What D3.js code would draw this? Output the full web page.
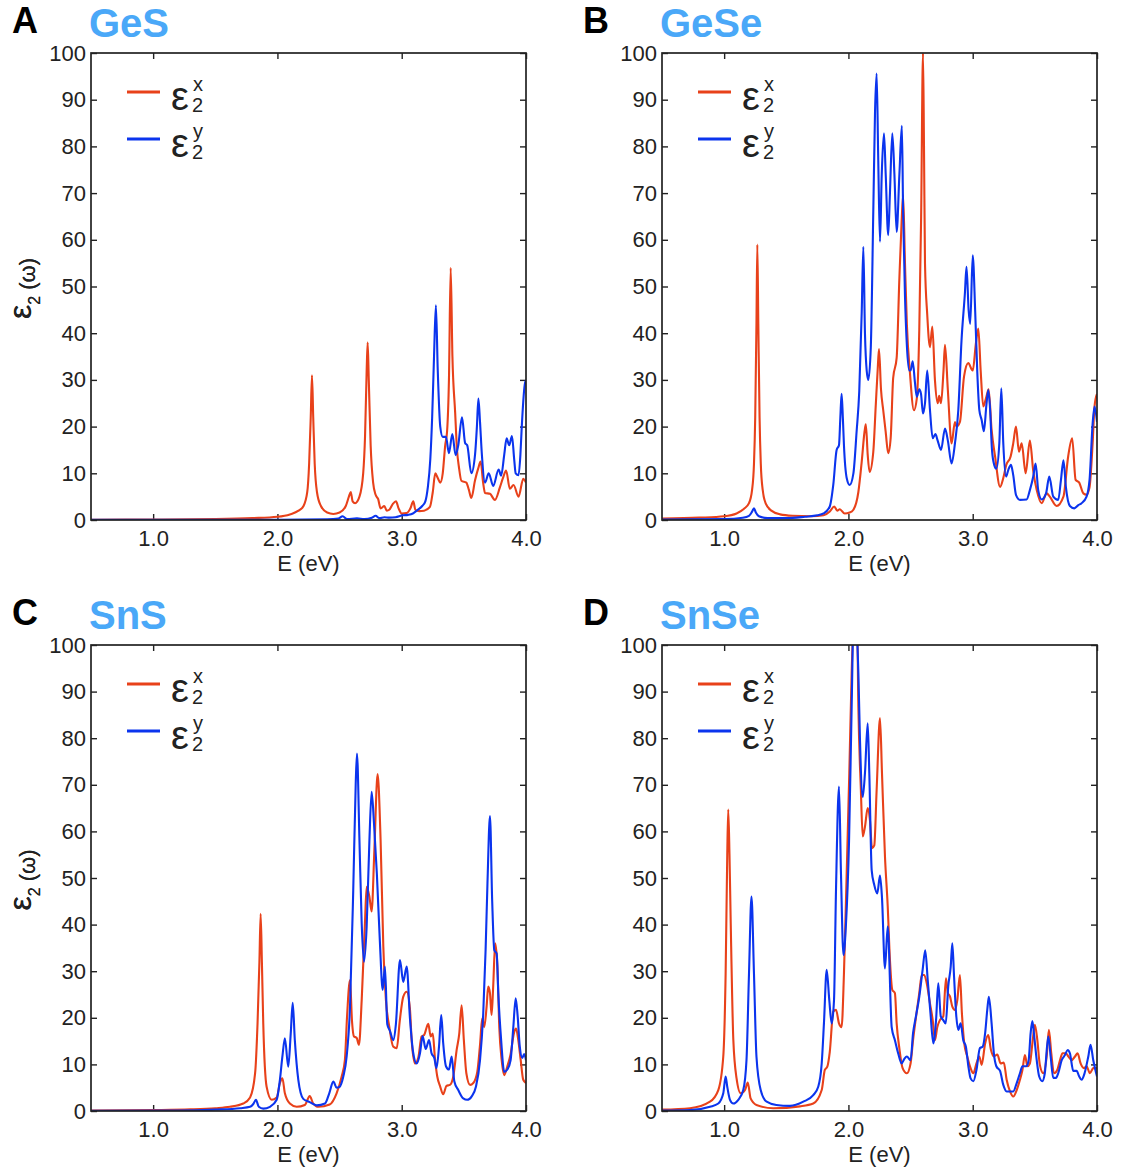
<!DOCTYPE html>
<html>
<head>
<meta charset="utf-8">
<script src="https://cdn.jsdelivr.net/npm/d3@7"></script>
<style>
  body { margin: 0; background: #fff; }
  svg { display: block; font-family: "Liberation Sans", Arial, Helvetica, sans-serif; }
</style>
</head>
<body>
<svg id="chart" width="1122" height="1172"></svg>
<script>
// ---------------- DATA (E in eV, ε2 value) ----------------
const xTicks = [1.0, 2.0, 3.0, 4.0];
const yTicks = [0, 10, 20, 30, 40, 50, 60, 70, 80, 90, 100];
const materials = ["GeS", "GeSe", "SnS", "SnSe"];
const panelLetters = ["A", "B", "C", "D"];

const gesX = [[0.5,0.05],[1.0,0.1],[1.5,0.2],[1.8,0.4],[2.0,0.7],[2.1,1.2],[2.17,2.0],[2.21,3.0],[2.24,6],[2.255,12],[2.268,22],[2.278,31],[2.288,22],[2.30,12],[2.318,6],[2.35,3],[2.40,1.6],[2.45,1.3],[2.50,1.6],[2.55,3],[2.575,5],[2.59,6],[2.605,4],[2.625,3.6],[2.66,5],[2.69,10],[2.705,18],[2.718,32],[2.726,38],[2.735,30],[2.75,16],[2.77,8],[2.79,5.4],[2.81,4.5],[2.83,2.5],[2.86,3],[2.88,2],[2.90,2.2],[2.93,3.5],[2.954,4],[2.975,2.5],[3.0,1.4],[3.04,1.5],[3.07,2.5],[3.093,4],[3.11,2.2],[3.14,1.9],[3.18,2],[3.227,2.8],[3.25,6],[3.27,10],[3.29,9],[3.31,8],[3.33,10],[3.35,16],[3.365,19],[3.38,30],[3.394,54],[3.408,35],[3.43,23],[3.445,15],[3.46,11.4],[3.48,8.4],[3.52,8],[3.54,6.5],[3.56,4.7],[3.59,8.5],[3.615,11],[3.635,12.5],[3.655,8],[3.67,5.8],[3.71,5.6],[3.75,4.3],[3.79,7],[3.815,9],[3.84,10.6],[3.87,6.7],[3.90,7.5],[3.94,5],[3.978,8.8],[4.0,8]];
const gesY = [[0.5,0.02],[2.0,0.05],[2.4,0.15],[2.49,0.3],[2.525,0.8],[2.56,0.2],[2.64,0.35],[2.7,0.2],[2.76,0.5],[2.79,0.9],[2.82,0.4],[2.86,0.6],[2.9,0.5],[2.95,0.6],[3.01,1.0],[3.05,1.1],[3.09,1.4],[3.13,2.2],[3.165,3.0],[3.19,4],[3.21,7],[3.23,13],[3.245,22],[3.26,35],[3.275,46],[3.29,32],[3.31,20],[3.33,17.8],[3.356,17.8],[3.38,14.3],[3.407,18.4],[3.434,13.9],[3.455,16],[3.485,22],[3.51,16.5],[3.527,16],[3.56,10],[3.59,14],[3.605,20],[3.617,26],[3.63,21],[3.645,14],[3.67,8],[3.70,10],[3.736,7.3],[3.78,10.8],[3.80,9.5],[3.825,14],[3.844,17.5],[3.865,16],[3.887,18],[3.905,13],[3.917,10],[3.94,9.6],[3.955,14],[3.965,19.5],[3.99,29],[4.0,30]];

const geseX = [[0.5,0.3],[0.8,0.5],[1.0,0.8],[1.1,1.4],[1.16,2.4],[1.2,3.6],[1.225,6.5],[1.24,12],[1.25,22],[1.26,42],[1.267,59],[1.275,42],[1.285,22],[1.295,12],[1.31,6.5],[1.335,3.5],[1.38,2],[1.45,1.2],[1.55,0.9],[1.7,0.8],[1.8,1.0],[1.85,1.8],[1.886,2.9],[1.91,2.0],[1.93,2.3],[1.97,1.4],[2.01,1.6],[2.04,2.2],[2.08,6],[2.107,12.5],[2.13,19],[2.14,20.5],[2.155,14],[2.17,10.3],[2.2,14.6],[2.22,24.6],[2.235,32],[2.246,36.6],[2.262,28],[2.28,23.5],[2.3,18.8],[2.32,14.3],[2.34,17.6],[2.36,30.4],[2.388,34.7],[2.41,51.8],[2.428,63.9],[2.44,69.6],[2.455,55],[2.47,42],[2.495,31.5],[2.527,23.5],[2.55,26],[2.57,40.7],[2.585,65],[2.6,100],[2.608,80],[2.616,55],[2.634,44],[2.656,37],[2.675,41.4],[2.696,30],[2.718,25],[2.73,26.6],[2.745,25],[2.765,32],[2.777,37.5],[2.80,27.8],[2.83,16.4],[2.857,21],[2.87,20],[2.897,21],[2.93,30.7],[2.964,33.6],[3.0,32],[3.026,37.9],[3.045,41],[3.064,32],[3.085,24.3],[3.11,26.4],[3.128,28],[3.152,19.3],[3.18,13.6],[3.22,7.1],[3.246,9],[3.27,11.8],[3.305,13.6],[3.326,16.4],[3.348,20],[3.372,14.6],[3.394,16.4],[3.426,10],[3.46,17],[3.487,10.5],[3.515,6.4],[3.555,3.6],[3.595,5.7],[3.62,5],[3.675,3],[3.73,5],[3.768,13.6],[3.8,17.5],[3.828,8.6],[3.857,8],[3.89,5.7],[3.916,5.4],[3.94,7],[3.965,16.5],[3.98,24.3],[4.0,27]];
const geseY = [[0.5,0.1],[1.0,0.2],[1.15,0.5],[1.2,0.9],[1.225,1.8],[1.24,2.5],[1.255,1.6],[1.28,0.8],[1.35,0.4],[1.5,0.4],[1.65,0.7],[1.75,1.0],[1.8,1.4],[1.85,2.9],[1.878,7.5],[1.905,15],[1.924,16],[1.935,22],[1.945,27],[1.955,22],[1.964,16],[1.986,9],[2.01,7.5],[2.04,10],[2.066,19],[2.087,27.5],[2.107,44.6],[2.12,58.5],[2.133,40],[2.147,32],[2.16,30],[2.18,37],[2.2,66],[2.214,87.4],[2.227,95.6],[2.24,77],[2.254,59.6],[2.268,74],[2.286,82.8],[2.3,74],[2.32,61],[2.334,70],[2.353,82.8],[2.37,74],[2.388,61.7],[2.41,74],[2.43,84.4],[2.44,66],[2.455,48],[2.47,37.5],[2.49,32],[2.5,32],[2.517,34],[2.535,29.5],[2.55,26.4],[2.57,28],[2.584,27],[2.6,22.8],[2.616,25],[2.634,32],[2.656,23.6],[2.678,17.5],[2.7,18.4],[2.718,17],[2.745,15],[2.777,19.6],[2.8,17],[2.83,12.1],[2.857,16.4],[2.884,23.5],[2.91,38.5],[2.937,48.5],[2.95,54.2],[2.967,45],[2.98,42],[3.0,56.7],[3.02,44.6],[3.037,31.5],[3.053,23.6],[3.072,21.4],[3.09,19],[3.11,24.6],[3.125,27.8],[3.14,23.6],[3.155,15],[3.173,11.8],[3.19,11],[3.214,16.4],[3.23,28.2],[3.246,16.4],[3.268,9.3],[3.286,10.7],[3.308,11.8],[3.326,9.6],[3.348,5.4],[3.38,4.3],[3.434,4.4],[3.46,6.4],[3.487,9.3],[3.506,12.1],[3.527,6.4],[3.555,4.4],[3.59,5.7],[3.616,9.3],[3.648,5],[3.688,4.3],[3.71,8.6],[3.73,12.8],[3.75,7],[3.782,3],[3.817,2.5],[3.85,3.2],[3.876,3.6],[3.916,5],[3.94,8.6],[3.965,20.7],[3.98,24.3],[4.0,21]];

const snsX = [[0.5,0.1],[1.0,0.2],[1.3,0.35],[1.5,0.6],[1.618,0.9],[1.725,1.6],[1.78,2.9],[1.82,8],[1.84,18.8],[1.855,32],[1.865,42.3],[1.875,32],[1.886,18.8],[1.913,5.2],[1.954,2.4],[1.994,2.9],[2.02,6],[2.04,7],[2.06,3.8],[2.1,1.6],[2.155,0.9],[2.22,1.3],[2.26,3.2],[2.288,1.6],[2.33,0.9],[2.42,1.4],[2.476,3.8],[2.517,7.4],[2.543,11],[2.56,20.2],[2.584,28.1],[2.6,19.3],[2.616,16],[2.637,15.7],[2.656,14.2],[2.678,23.8],[2.704,40.3],[2.718,48.1],[2.74,46],[2.758,42.8],[2.78,56],[2.806,72.3],[2.83,58.2],[2.852,35.3],[2.873,23.8],[2.9,18.1],[2.932,13.8],[2.96,13.5],[2.985,19.5],[3.012,24.5],[3.04,25.6],[3.066,22],[3.08,15.2],[3.107,10.2],[3.133,11.4],[3.16,16],[3.18,16.3],[3.214,18.7],[3.233,16],[3.25,16.6],[3.267,11.4],[3.286,7.4],[3.308,5.4],[3.334,3.6],[3.36,5.4],[3.388,5.6],[3.415,7.4],[3.442,13.1],[3.463,16.6],[3.482,22.7],[3.5,15.2],[3.52,8.1],[3.55,5.6],[3.576,6],[3.608,8.4],[3.63,14.2],[3.648,19.9],[3.664,18],[3.683,22.4],[3.696,26.7],[3.71,25.3],[3.723,20.6],[3.736,26.7],[3.752,36],[3.77,31],[3.785,18],[3.804,11],[3.825,7.7],[3.85,9.6],[3.876,12.2],[3.903,16.7],[3.92,17.7],[3.938,15.2],[3.957,11],[3.978,6.7],[4.0,6]];
const snsY = [[0.5,0.05],[1.2,0.1],[1.5,0.3],[1.7,0.6],[1.78,0.9],[1.806,1.5],[1.827,2.4],[1.85,0.9],[1.886,0.5],[1.94,0.9],[1.994,2.4],[2.02,6.7],[2.04,11.7],[2.06,15.6],[2.087,9.5],[2.107,16.6],[2.123,23.2],[2.14,15.2],[2.168,6.7],[2.208,2.6],[2.26,1.9],[2.316,1.2],[2.383,1.6],[2.417,3.8],[2.45,6.3],[2.476,5],[2.5,5.2],[2.53,7.4],[2.557,11.7],[2.584,22.4],[2.61,47.4],[2.63,70.3],[2.64,76.7],[2.66,58],[2.678,40.3],[2.696,32],[2.718,39.6],[2.74,58],[2.758,68.5],[2.777,61.7],[2.8,50.9],[2.824,36.5],[2.847,26],[2.865,31],[2.884,18.6],[2.905,17.2],[2.932,15.2],[2.953,18.6],[2.986,32.4],[3.012,27.7],[3.04,31],[3.066,20],[3.093,12.4],[3.12,10.2],[3.147,12.4],[3.168,16.1],[3.193,13.3],[3.22,15.2],[3.24,12.4],[3.262,11.4],[3.28,9.2],[3.3,13.8],[3.318,20.6],[3.334,14.5],[3.356,9.6],[3.38,8.9],[3.402,11.7],[3.423,6.4],[3.455,4.5],[3.495,2.7],[3.527,2.4],[3.562,3.1],[3.597,5.2],[3.63,10.9],[3.656,21],[3.675,34.6],[3.69,48.9],[3.71,63.3],[3.728,45],[3.745,34.5],[3.764,33.8],[3.777,25.3],[3.8,15.2],[3.825,8.4],[3.85,8.9],[3.876,10.9],[3.898,18],[3.917,24.2],[3.933,20.3],[3.95,13.8],[3.97,11.4],[3.985,12.2],[4.0,10.9]];

const snseX = [[0.5,0.3],[0.725,0.6],[0.886,2],[0.953,4.5],[0.993,11.7],[1.012,29.5],[1.025,55],[1.033,64.7],[1.043,55],[1.053,40.3],[1.074,15.2],[1.1,7],[1.133,3.8],[1.168,4.5],[1.19,6.1],[1.213,2.7],[1.26,1.3],[1.395,0.6],[1.61,1.0],[1.717,1.6],[1.785,4.5],[1.81,8.8],[1.83,9.5],[1.85,12.7],[1.878,21.3],[1.9,21.7],[1.924,18.8],[1.945,18],[1.964,29.5],[1.986,51],[2.007,72.5],[2.026,94],[2.05,108],[2.07,105],[2.08,86.8],[2.1,69],[2.115,58.9],[2.133,61],[2.155,65],[2.173,62.4],[2.19,56.4],[2.208,57],[2.227,68.9],[2.254,84.3],[2.27,72.5],[2.294,54.6],[2.316,44],[2.334,32.4],[2.353,26],[2.374,25.3],[2.388,18.8],[2.41,13.4],[2.436,9.2],[2.47,8.1],[2.5,10.2],[2.52,15.2],[2.548,21],[2.57,25.3],[2.59,29.2],[2.61,29.2],[2.63,27.4],[2.656,23.1],[2.678,19.5],[2.696,15.2],[2.715,18],[2.736,19.5],[2.763,20.3],[2.785,28.5],[2.8,25.3],[2.817,24.6],[2.836,22.4],[2.857,21.7],[2.876,23.8],[2.897,29.2],[2.913,21],[2.932,14.5],[2.956,11.7],[2.983,9.2],[3.005,8.1],[3.03,10.2],[3.053,11.7],[3.072,9.9],[3.1,14.5],[3.125,16.3],[3.147,13.1],[3.17,11.7],[3.198,12.1],[3.225,10.2],[3.25,10.4],[3.273,6.7],[3.3,4.2],[3.326,3.1],[3.354,4.5],[3.38,6.7],[3.4,8.8],[3.42,12],[3.44,9.6],[3.46,10.2],[3.483,15.2],[3.5,18.5],[3.52,15.2],[3.54,9.9],[3.568,8.1],[3.595,11.7],[3.613,17.4],[3.632,12.4],[3.654,8.1],[3.68,8.8],[3.702,10.9],[3.723,12.4],[3.748,12.4],[3.77,11.7],[3.796,10.9],[3.823,11.7],[3.844,12.4],[3.868,10.2],[3.895,9.2],[3.916,9.6],[3.943,8.1],[3.97,9.2],[4.0,9.2]];
const snseY = [[0.5,0.1],[0.725,0.2],[0.886,0.9],[0.953,1.6],[0.993,3.8],[1.012,7.4],[1.025,5.2],[1.047,2.4],[1.074,1.6],[1.114,2.4],[1.154,4.5],[1.18,11],[1.2,29.5],[1.22,46],[1.24,29.5],[1.26,11.7],[1.294,4.5],[1.342,2],[1.42,1.3],[1.53,1.1],[1.637,2],[1.717,3.4],[1.757,5.2],[1.785,10.2],[1.803,18.8],[1.825,30.3],[1.846,23.8],[1.865,18.8],[1.884,23.8],[1.9,47.4],[1.924,69.6],[1.94,51],[1.96,33.5],[1.98,40],[2.005,58],[2.026,86.8],[2.045,110],[2.066,104],[2.08,94],[2.093,79.6],[2.115,67.4],[2.133,72.5],[2.155,83.2],[2.168,72.5],[2.187,51.7],[2.208,48.5],[2.232,46.7],[2.254,50.5],[2.27,45.8],[2.294,30.6],[2.316,39.6],[2.348,18],[2.374,15.2],[2.4,12.4],[2.428,10.2],[2.45,11.2],[2.47,11.7],[2.5,10.9],[2.52,16.7],[2.543,20.3],[2.57,24.5],[2.597,30.3],[2.618,34.5],[2.638,28.1],[2.66,21],[2.683,14.5],[2.705,19.5],[2.723,27.4],[2.743,20.3],[2.763,19.5],[2.783,18.8],[2.803,26.7],[2.823,31],[2.836,36],[2.85,28.8],[2.866,21],[2.884,17.4],[2.903,18.8],[2.924,15.2],[2.945,13.8],[2.965,9.6],[2.983,7],[3.005,6.4],[3.03,8.8],[3.058,13.5],[3.08,13.8],[3.1,16.7],[3.117,21.7],[3.13,24.5],[3.152,18.8],[3.17,12.4],[3.19,9.6],[3.22,8.6],[3.246,5.6],[3.273,4.2],[3.326,4.2],[3.354,6],[3.38,8.1],[3.4,9.6],[3.43,9.6],[3.45,10.9],[3.466,16.7],[3.48,19.3],[3.495,16],[3.515,10.9],[3.535,7.4],[3.56,6.4],[3.58,8.1],[3.608,16],[3.627,11.7],[3.648,7.1],[3.67,7.1],[3.688,8.1],[3.716,10.9],[3.742,12],[3.764,13.1],[3.782,12.4],[3.809,8.6],[3.836,8.6],[3.857,7.4],[3.876,6.7],[3.9,8.1],[3.93,11.7],[3.948,14.2],[3.97,10.9],[4.0,7.4]];

const seriesX = [gesX, geseX, snsX, snseX];
const seriesY = [gesY, geseY, snsY, snseY];

// ---------------- LAYOUT ----------------
const RED = "#e8411a", BLUE = "#0b34ee", TITLE = "#4aa8f8", INK = "#222";
const layout = [
  {left: 91, top: 53, w: 435, h: 467},
  {left: 662, top: 53, w: 435, h: 467},
  {left: 91, top: 645, w: 435, h: 466},
  {left: 662, top: 645, w: 435, h: 466}
];

const svg = d3.select("#chart");

layout.forEach((L, i) => {
  const x = d3.scaleLinear().domain([0.5, 4.0]).range([0, L.w]);
  const y = d3.scaleLinear().domain([0, 100]).range([L.h, 0]);
  const g = svg.append("g").attr("transform", `translate(${L.left},${L.top})`);

  g.append("clipPath").attr("id", "clip" + i)
    .append("rect").attr("x", 0).attr("y", 0).attr("width", L.w).attr("height", L.h);

  // axes (inward ticks)
  const tickLen = 6;
  const bottom = g.append("g").attr("transform", `translate(0,${L.h})`)
    .call(d3.axisBottom(x).tickValues(xTicks).tickFormat(d3.format(".1f"))
      .tickSizeInner(-tickLen).tickSizeOuter(0).tickPadding(10));
  const top = g.append("g")
    .call(d3.axisTop(x).tickValues(xTicks).tickFormat("").tickSizeInner(-tickLen).tickSizeOuter(0));
  const left = g.append("g")
    .call(d3.axisLeft(y).tickValues(yTicks).tickSizeInner(-tickLen).tickSizeOuter(0).tickPadding(5));
  const right = g.append("g").attr("transform", `translate(${L.w},0)`)
    .call(d3.axisRight(y).tickValues(yTicks).tickFormat("").tickSizeInner(-tickLen).tickSizeOuter(0));
  [bottom, top, left, right].forEach(a => {
    a.select(".domain").remove();
    a.selectAll("line").attr("stroke", INK).attr("stroke-width", 1.4);
    a.selectAll("text").attr("fill", INK).attr("font-size", 22)
      .attr("font-family", "'Liberation Sans', Arial, sans-serif");
  });

  // curves
  const line = d3.line().x(d => x(d[0])).y(d => y(d[1])).curve(d3.curveMonotoneX);
  const curves = g.append("g").attr("clip-path", `url(#clip${i})`);
  curves.append("path").datum(seriesX[i]).attr("d", line)
    .attr("fill", "none").attr("stroke", RED).attr("stroke-width", 2.1).attr("stroke-linejoin", "round");
  curves.append("path").datum(seriesY[i]).attr("d", line)
    .attr("fill", "none").attr("stroke", BLUE).attr("stroke-width", 2.1).attr("stroke-linejoin", "round");

  // frame
  g.append("rect").attr("x", 0).attr("y", 0).attr("width", L.w).attr("height", L.h)
    .attr("fill", "none").attr("stroke", INK).attr("stroke-width", 1.7);

  // x label
  g.append("text").attr("x", L.w / 2).attr("y", L.h + 51).attr("text-anchor", "middle")
    .attr("font-size", 22).attr("fill", INK).text("E (eV)");

  // y label
  const yl = g.append("text")
    .attr("transform", `translate(${-L.left + 31},${L.h / 2 + 2}) rotate(-90)`)
    .attr("text-anchor", "middle").attr("fill", INK);
  yl.append("tspan").attr("font-size", 32).text("ε");
  yl.append("tspan").attr("font-size", 16).attr("dy", 9).text("2");
  yl.append("tspan").attr("font-size", 22).attr("dy", -5).text(" (ω)");

  // legend
  const legend = [{c: RED, s: "x", yy: 39}, {c: BLUE, s: "y", yy: 86}];
  legend.forEach(it => {
    g.append("line").attr("x1", 36).attr("x2", 69).attr("y1", it.yy).attr("y2", it.yy)
      .attr("stroke", it.c).attr("stroke-width", 3);
    g.append("text").attr("x", 80).attr("y", it.yy + 18).attr("font-size", 40).attr("fill", INK).text("ε");
    g.append("text").attr("x", 102).attr("y", it.yy - 1).attr("font-size", 20).attr("fill", INK).text(it.s);
    g.append("text").attr("x", 101).attr("y", it.yy + 20).attr("font-size", 20).attr("fill", INK).text("2");
  });

  // titles
  svg.append("text").attr("x", L.left - 79).attr("y", L.top - 20)
    .attr("font-size", 36).attr("font-weight", "bold").attr("fill", "#000").text(panelLetters[i]);
  svg.append("text").attr("x", L.left - 2).attr("y", L.top - 16)
    .attr("font-size", 40).attr("font-weight", "bold").attr("fill", TITLE).text(materials[i]);
});
</script>
</body>
</html>
